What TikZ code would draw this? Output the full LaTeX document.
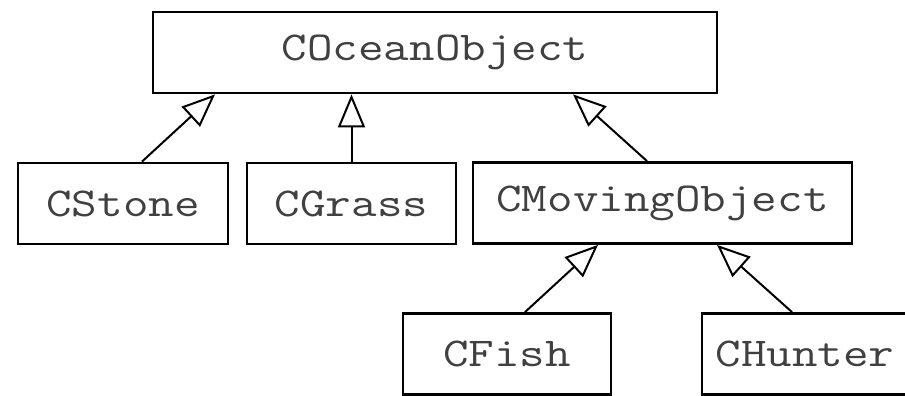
\documentclass[tikz,border=0pt]{standalone}
\usepackage{fontspec}
\setmonofont[FakeStretch=1.21]{Latin Modern Mono}
\usetikzlibrary{arrows.meta}
\begin{document}
\begin{tikzpicture}[x=1pt,y=-1pt,
  cls/.style={draw=black, line width=2.8pt, inner sep=0pt, minimum height=81pt,
    font=\fontsize{41}{41}\selectfont\ttfamily, text=black!75},
  inh/.style={line width=2pt, -{Triangle[open,length=33pt,width=27pt,line width=2pt]}}]
\useasboundingbox (0,0) rectangle (905,396);
\node[cls, minimum width=564pt] (top) at (435,52.5) {COceanObject};
\node[cls, minimum width=210pt] (stone) at (123,203.5) {CStone};
\node[cls, minimum width=209pt] (grass) at (351.5,203.5) {CGrass};
\node[cls, minimum width=379pt] (moving) at (662.5,203) {CMovingObject};
\node[cls, minimum width=208pt] (fish) at (507,354) {CFish};
\node[cls, minimum width=206pt] (hunter) at (805,354) {CHunter};
\draw[inh] ([xshift=19pt]stone.north) -- ([xshift=-220pt]top.south);
\draw[inh] (grass.north) -- (grass.north |- top.south);
\draw[inh] ([xshift=-15.5pt]moving.north) -- ([xshift=138pt]top.south);
\draw[inh] ([xshift=18pt]fish.north) -- ([xshift=-64.5pt]moving.south);
\draw[inh] ([xshift=-13pt]hunter.north) -- ([xshift=54.5pt]moving.south);
\end{tikzpicture}
\end{document}
